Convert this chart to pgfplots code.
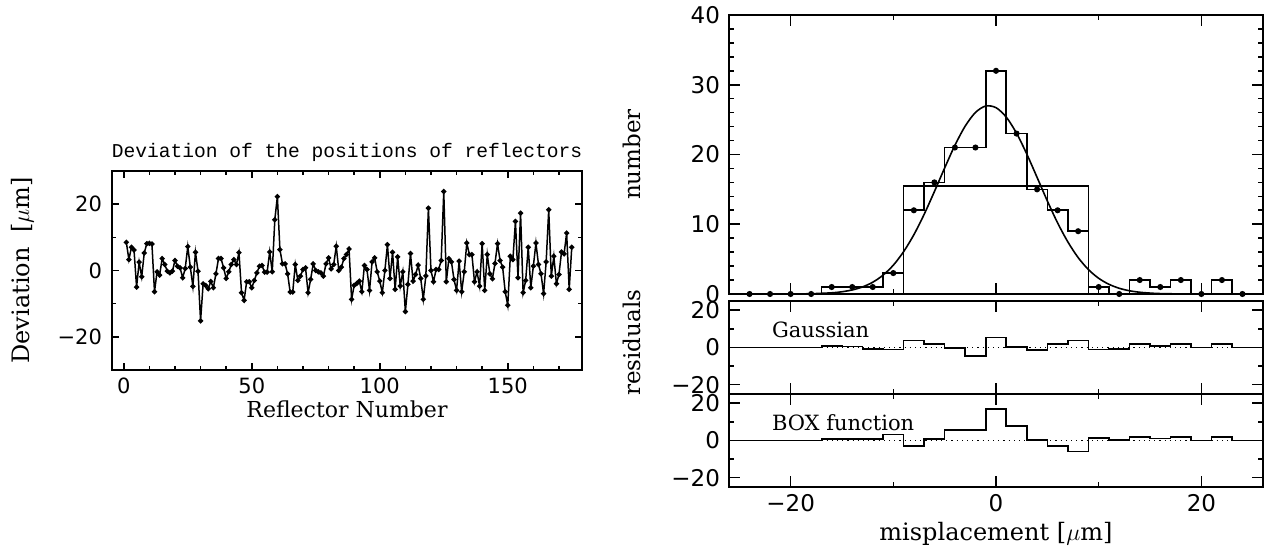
\documentclass[border=0pt]{standalone}
\usepackage{pgfplots}
\pgfplotsset{compat=1.18}
\usepackage{fontspec}
\setmainfont{DejaVu Serif}
\newfontfamily\tickfont{DejaVu Sans}
\newfontfamily\ttlfont{Liberation Mono}

\pgfplotsset{
  myax/.style={
    scale only axis,
    anchor=south west,
    axis line style={line width=0.9pt},
    every tick/.style={line width=0.8pt, black},
    clip=false,
  },
}

\begin{document}
\begin{tikzpicture}
\useasboundingbox (0pt,0pt) rectangle (632.5pt,275.5pt);

% ---------------- left panel ----------------
\begin{axis}[myax,
  at={(56pt,90.5pt)}, width=235pt, height=99.5pt,
  xmin=-4.6, xmax=179, ymin=-30, ymax=30,
  xtick={0,50,100,150}, minor xtick={10,20,30,40,60,70,80,90,110,120,130,140,160,170},
  ytick={-20,0,20}, yticklabels={−20,0,20}, minor ytick={-30,-10,10,30},
  xticklabels={0,50,100,150},
  major tick length=3.5pt, minor tick length=2pt,
  every tick label/.append style={font=\tickfont\fontsize{10.5}{12}\selectfont},
  yticklabel style={xshift=-1.5pt},
  xticklabel style={yshift=-0.5pt},
  xlabel={Reflector Number},
  ylabel={Deviation\hspace{0.6em}[$\mu$m]},
  xlabel style={font=\fontsize{11}{13}\selectfont, at={(axis description cs:0.5,-0.2)}, anchor=center},
  ylabel style={font=\fontsize{12}{14}\selectfont, at={(axis description cs:-0.191,0.5)}, anchor=center, rotate=0},
]
\addplot[black, line width=0.75pt, mark=*, mark size=0.9pt] coordinates {
(1,8.5)(2,3.3)(3,7)(4,6.2)(5,-5)(6,2.5)(7,-1.9)(8,5.3)(9,8.1)(10,8.2)
(11,8)(12,-6.4)(13,-0.4)(14,-1.4)(15,3.6)(16,1.8)(17,-0.2)(18,-0.7)(19,-0.2)(20,3)
(21,1.3)(22,0.8)(23,-2.2)(24,0.6)(25,7.2)(26,1)(27,-4.8)(28,5.5)(29,-0.2)(30,-15.2)
(31,-4)(32,-4.5)(33,-5.5)(34,-3.3)(35,-5.2)(36,-1)(37,3.6)(38,3.6)(39,0.8)(40,-2.4)
(41,-0.4)(42,1.8)(43,3.3)(44,1.8)(45,5.4)(46,-6.7)(47,-9)(48,-3.4)(49,-3.4)(50,-5.2)
(51,-3)(52,-0.7)(53,1.3)(54,1.5)(55,-0.5)(56,-0.5)(57,5.6)(58,-0.4)(59,15.3)(60,22.3)
(61,6.3)(62,2)(63,2)(64,-1)(65,-6.5)(66,-6.5)(67,1.8)(68,-3)(69,-1.7)(70,0.3)
(71,0.8)(72,-6.7)(73,-2.7)(74,2)(75,0)(76,-0.4)(77,-0.7)(78,-1.7)(79,2)(80,3.8)
(81,0.5)(82,1.8)(83,7.3)(84,0)(85,1)(86,3.6)(87,4.8)(88,6.5)(89,-8.7)(90,-4.5)
(91,-3.9)(92,-3.2)(93,-6.4)(94,1.5)(95,0.3)(96,-6)(97,2.6)(98,3.8)(99,-0.4)(100,-3.2)
(101,-6.7)(102,0)(103,7.8)(104,-2.4)(105,5.5)(106,-5.7)(107,4.1)(108,-4.7)(109,-0.4)(110,-12.4)
(111,-4.2)(112,5.1)(113,-3.2)(114,-1.2)(115,1.6)(116,-2.4)(117,-8.7)(118,-1.6)(119,18.8)(120,0)
(121,-3.4)(122,0.3)(123,0.3)(124,3)(125,23.8)(126,-3.4)(127,3.6)(128,2.6)(129,-2.7)(130,-6)
(131,2.8)(132,-6.4)(133,-0.4)(134,8.3)(135,4.8)(136,4.8)(137,-3.4)(138,-0.4)(139,-4.7)(140,8.1)
(141,-6)(142,4.8)(143,-1)(144,-2.5)(145,2.1)(146,8.1)(147,3)(148,1)(149,-6.4)(150,-10.5)
(151,4.3)(152,3.3)(153,14.8)(154,-2.2)(155,17.3)(156,-6.7)(157,-3)(158,7)(159,-5.2)(160,1.3)
(161,8.3)(162,1.8)(163,-1)(164,-7)(165,2.6)(166,18.3)(167,-1.7)(168,4.3)(169,-4)(170,-1.2)
(171,5.6)(172,5)(173,11.3)(174,-5.7)(175,7)
};
\node[font=\ttlfont\fontsize{9.8}{11}\selectfont, anchor=center] at (rel axis cs:0.5,1.095) {Deviation of the positions of reflectors};
\end{axis}

% ---------------- right: histogram ----------------
\begin{axis}[myax,
  at={(364.5pt,128.5pt)}, width=267pt, height=139.5pt,
  xmin=-26, xmax=26, ymin=0, ymax=40,
  xtick={-20,0,20}, minor xtick={-10,10}, xticklabels={},
  ytick={0,10,20,30,40}, yticklabels={0,10,20,30,40},
  minor ytick={2,4,6,8,12,14,16,18,22,24,26,28,32,34,36,38},
  major tick length=5.5pt, minor tick length=2.5pt,
  every tick label/.append style={font=\tickfont\fontsize{11.5}{13}\selectfont},
  yticklabel style={xshift=-1pt},
  ylabel={number},
  ylabel style={font=\fontsize{11.5}{13}\selectfont, at={(axis description cs:-0.182,0.5)}, anchor=center},
]
\addplot[black, line width=0.8pt, const plot mark mid, mark=*, mark size=1.1pt] coordinates {
(-24,0)(-22,0)(-20,0)(-18,0)(-16,1)(-14,1)(-12,1)(-10,3)(-8,12)(-6,16)(-4,21)(-2,21)
(0,32)(2,23)(4,15)(6,12)(8,9)(10,1)(12,0)(14,2)(16,1)(18,2)(20,0)(22,2)(24,0)
};
\addplot[black, line width=0.8pt] coordinates {(-9,0)(-9,15.5)(9,15.5)(9,0)};
\addplot[black, line width=0.8pt, smooth] coordinates {
(-20,0.01)(-18,0.04)(-16,0.17)(-15,0.32)(-14,0.58)(-13,1.01)(-12,1.69)(-11,2.70)(-10,4.13)
(-9,6.06)(-8,8.49)(-7,11.41)(-6,14.68)(-5,18.07)(-4,21.32)(-3,24.07)(-2,26.03)(-1,26.95)
(0,26.71)(1,25.36)(2,23.05)(3,20.06)(4,16.72)(5,13.34)(6,10.19)(7,7.46)(8,5.22)(9,3.50)
(10,2.25)(11,1.39)(12,0.82)(13,0.46)(14,0.25)(15,0.13)(16,0.06)(18,0.01)(20,0)
};
\end{axis}

% ---------------- right: residuals Gaussian ----------------
\begin{axis}[myax,
  at={(364.5pt,78.5pt)}, width=267pt, height=46.5pt,
  xmin=-26, xmax=26, ymin=-25, ymax=25,
  xtick={-20,0,20}, minor xtick={-10,10}, xticklabels={},
  ytick={-20,0,20}, yticklabels={−20,0,20}, minor ytick={-10,10},
  major tick length=5.5pt, minor tick length=2.5pt,
  every tick label/.append style={font=\tickfont\fontsize{11.5}{13}\selectfont},
  yticklabel style={xshift=-1pt},
  ylabel={residuals},
  ylabel style={font=\fontsize{11.5}{13}\selectfont, at={(axis description cs:-0.182,0.55)}, anchor=center},
]
\addplot[black, dotted, line width=0.6pt] coordinates {(-17,0)(23,0)};
\addplot[black, line width=0.8pt, const plot] coordinates {
(-26,0)(-17,0.8)(-15,0.5)(-13,-0.8)(-11,-1.0)(-9,3.8)(-7,2.0)(-5,-0.2)(-3,-4.5)(-1,5.3)
(1,0.3)(3,-1.5)(5,2.0)(7,3.8)(9,-1.0)(11,-0.7)(13,1.8)(15,0.9)(17,2.0)(19,0)(21,2.0)(23,0)(26,0)
};
\node[anchor=west, font=\fontsize{10.5}{12}\selectfont] at (axis cs:-22.5,9.5) {Gaussian};
\end{axis}

% ---------------- right: residuals BOX ----------------
\begin{axis}[myax,
  at={(364.5pt,32pt)}, width=267pt, height=46.5pt,
  xmin=-26, xmax=26, ymin=-25, ymax=25,
  xtick={-20,0,20}, minor xtick={-10,10}, xticklabels={−20,0,20},
  ytick={-20,0,20}, yticklabels={−20,0,20}, minor ytick={-10,10},
  major tick length=5.5pt, minor tick length=2.5pt,
  every tick label/.append style={font=\tickfont\fontsize{11.5}{13}\selectfont},
  yticklabel style={xshift=-1pt},
  xlabel={misplacement [$\mu$m]},
  xlabel style={font=\fontsize{12}{14}\selectfont, at={(axis description cs:0.5,-0.5)}, anchor=center},
]
\addplot[black, dotted, line width=0.6pt] coordinates {(-17,0)(23,0)};
\addplot[black, line width=0.8pt, const plot] coordinates {
(-26,0)(-17,0.8)(-11,3.2)(-9,-3.0)(-7,0.8)(-5,5.8)(-1,16.8)(1,7.8)(3,0.2)(5,-2.8)(7,-6.0)
(9,1.2)(11,0.3)(13,1.8)(15,1.0)(17,1.8)(19,0)(21,1.8)(23,0)(26,0)
};
\node[anchor=west, font=\fontsize{10.5}{12}\selectfont] at (axis cs:-22.5,9.5) {BOX function};
\end{axis}
\end{tikzpicture}
\end{document}
